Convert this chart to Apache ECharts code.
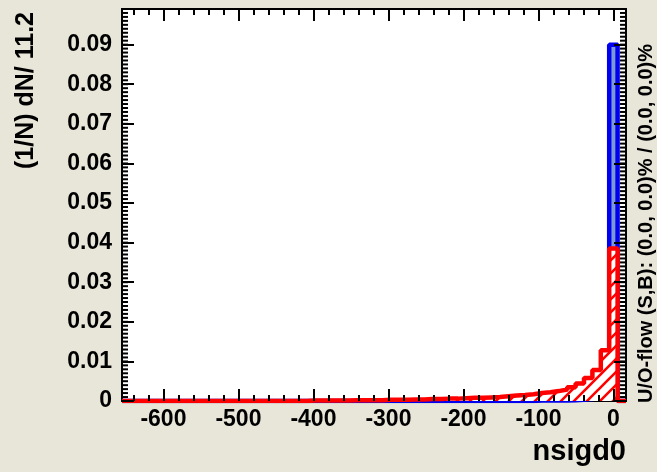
<!DOCTYPE html>
<html>
<head>
<meta charset="utf-8">
<script src="https://cdn.jsdelivr.net/npm/echarts@6/dist/echarts.min.js"></script>
<style>
html,body{margin:0;padding:0;background:#E8E5D9;}
#c{width:657px;height:472px;}
</style>
</head>
<body>
<div id="c"></div>
<script>
// ---- data ----
const binStart = -655.2;   // lower edge of first bin
const binWidth = 11.2;     // bin width
// 60 bins, from bin centred at -649.6 up to bin centred at 11.2
const sigValues = [
  0,0,0,0,0,0,0,0,0,0,
  0,0,0,0,0,0,0,0,0,0,
  0,0,0,0,0,0,0,0,0,0,
  0,0,0,0,0,0,0,0,0,0,
  0,0,0,0,0,0,0,0,0,0.0001,
  0.0001,0.0001,0.0001,0.0002,0.0003,0.0005,0.0010,0.0030,0.0900,0
];
const bkgValues = [
  0,0,0,0,0,0,0,0,0,0,
  0,0,0,0,0,0,0,0,0,0,
  0,0,0.0001,0.0001,0.0001,0.0001,0.0001,0.0002,0.0002,0.0002,
  0.0002,0.0003,0.0003,0.0003,0.0004,0.0004,0.0005,0.0005,0.0006,0.0006,
  0.0007,0.0008,0.0008,0.0009,0.0010,0.0012,0.0014,0.0015,0.0017,0.0020,
  0.0022,0.0025,0.0029,0.0035,0.0044,0.0058,0.0078,0.0128,0.0385,0
];
const xMin = -655.2, xMax = 16.8;
const yMin = 0, yMax = 0.099;
const xMajorTicks = [-600,-500,-400,-300,-200,-100,0];
const xMinorStep = 20;
const yMajorTicks = [0,0.01,0.02,0.03,0.04,0.05,0.06,0.07,0.08,0.09];
const yMinorStep = 0.001;
const xTitle = 'nsigd0';
const yTitle = '(1/N) dN/ 11.2';
const flowText = 'U/O-flow (S,B): (0.0, 0.0)% / (0.0, 0.0)%';

const xMinorTicks = [];
for (let v = -640; v <= xMax; v += xMinorStep) xMinorTicks.push(v);
const yMinorTicks = [];
for (let k = 1; k * yMinorStep < yMax; k++) yMinorTicks.push(+(k * yMinorStep).toFixed(4));

// histogram outline points (bin edges)
function stepData(vals){
  const pts = [[binStart, 0]];
  for (let i = 0; i < vals.length; i++) pts.push([binStart + i*binWidth, vals[i]]);
  pts.push([binStart + vals.length*binWidth, vals[vals.length-1]]);
  pts.push([binStart + vals.length*binWidth, 0]);
  return pts;
}

// hatch pattern for background
const hatch = document.createElement('canvas');
hatch.width = 13; hatch.height = 13;
(function(){
  const g = hatch.getContext('2d');
  g.fillStyle = '#ffffff'; g.fillRect(0,0,13,13);
  g.strokeStyle = '#ff0000'; g.lineWidth = 2.6;
  g.beginPath();
  g.moveTo(-2, 15); g.lineTo(15, -2);
  g.moveTo(-2, 2); g.lineTo(2, -2);
  g.moveTo(11, 15); g.lineTo(15, 11);
  g.stroke();
})();

const FONT = '"Liberation Sans", Arial, Helvetica, sans-serif';
const tickLine = {color:'#000', width:2};
const GRID = {left:122, right:31, top:9, bottom:71};

function xAx(grid, pos, major){
  return {
    type:'value', gridIndex:grid, min:xMin, max:xMax, position:pos, offset:0,
    splitNumber: major ? 7 : 34, z:10,
    axisLine:{show:false, onZero:false}, splitLine:{show:false}, minorTick:{show:false},
    axisTick:{show:true, inside:true, length: major ? 12 : 6, lineStyle:tickLine,
      customValues: major ? xMajorTicks : xMinorTicks},
    axisLabel:{show: major && pos==='bottom', margin:7, color:'#000', fontSize:23, fontWeight:'bold', fontFamily:FONT,
      customValues: xMajorTicks, showMinLabel:true, showMaxLabel:true, hideOverlap:false,
      formatter: v => String(Math.round(v))}
  };
}
function yAx(grid, pos, major){
  return {
    type:'value', gridIndex:grid, min:yMin, max:yMax, position:pos, offset:0,
    interval: 0.01, z:10,
    axisLine:{show:false, onZero:false}, splitLine:{show:false}, minorTick:{show:false},
    axisTick:{show:major, inside:true, length:12, lineStyle:tickLine, customValues: yMajorTicks},
    axisLabel:{show: major && pos==='left', margin:10, color:'#000', fontSize:23, fontWeight:'bold', fontFamily:FONT,
      customValues: yMajorTicks, showMinLabel:true, showMaxLabel:true, hideOverlap:false,
      formatter: v => (Math.abs(v) < 1e-9 ? '0' : v.toFixed(2))}
  };
}

const chart = echarts.init(document.getElementById('c'), null, {renderer:'canvas'});
chart.setOption({
  animation:false,
  backgroundColor:'#E8E5D9',
  grid:[
    Object.assign({show:true, backgroundColor:'#fff', borderColor:'#000', borderWidth:2, z:0}, GRID),
    Object.assign({show:false}, GRID)
  ],
  xAxis:[xAx(0,'bottom',true), xAx(0,'top',true), xAx(1,'bottom',false), xAx(1,'top',false)],
  yAxis:[yAx(0,'left',true), yAx(0,'right',true), yAx(1,'left',false), yAx(1,'right',false)],
  series:[
    {type:'line', xAxisIndex:0, yAxisIndex:0, step:'end', symbol:'none', data:stepData(sigValues),
     lineStyle:{color:'#0000ee', width:4.5}, areaStyle:{color:'#7d99d1', opacity:1}, z:2},
    {type:'line', xAxisIndex:0, yAxisIndex:0, step:'end', symbol:'none', data:stepData(bkgValues),
     lineStyle:{color:'#ff0000', width:4.5}, areaStyle:{color:{image:hatch, repeat:'repeat'}, opacity:1}, z:3},
    // minor y ticks on left and right frame edges, positioned through the axes
    {type:'custom', xAxisIndex:0, yAxisIndex:0, silent:true, clip:false, z:10,
     data: yMinorTicks.map(v => [xMin, v]),
     renderItem: function(params, api){
       const v = api.value(1);
       const pL = api.coord([xMin, v]);
       const pR = api.coord([xMax, v]);
       return {type:'group', children:[
         {type:'line', shape:{x1:pL[0], y1:pL[1], x2:pL[0]+6, y2:pL[1]}, style:{stroke:'#000', lineWidth:2}},
         {type:'line', shape:{x1:pR[0]-6, y1:pR[1], x2:pR[0], y2:pR[1]}, style:{stroke:'#000', lineWidth:2}}
       ]};
     }}
  ],
  graphic:[
    {type:'text', x:626, y:452, style:{text:xTitle, font:'bold 29px '+FONT, fill:'#000', align:'right', textAlign:'right', verticalAlign:'middle', textVerticalAlign:'middle'}},
    {type:'text', x:26, y:12, rotation:Math.PI/2, style:{text:yTitle, font:'bold 25px '+FONT, fill:'#000', align:'right', textAlign:'right', verticalAlign:'middle', textVerticalAlign:'middle'}},
    {type:'text', x:646, y:44, rotation:Math.PI/2, style:{text:flowText, font:'bold 20px '+FONT, fill:'#000', align:'right', textAlign:'right', verticalAlign:'middle', textVerticalAlign:'middle'}}
  ]
});
</script>
</body>
</html>
